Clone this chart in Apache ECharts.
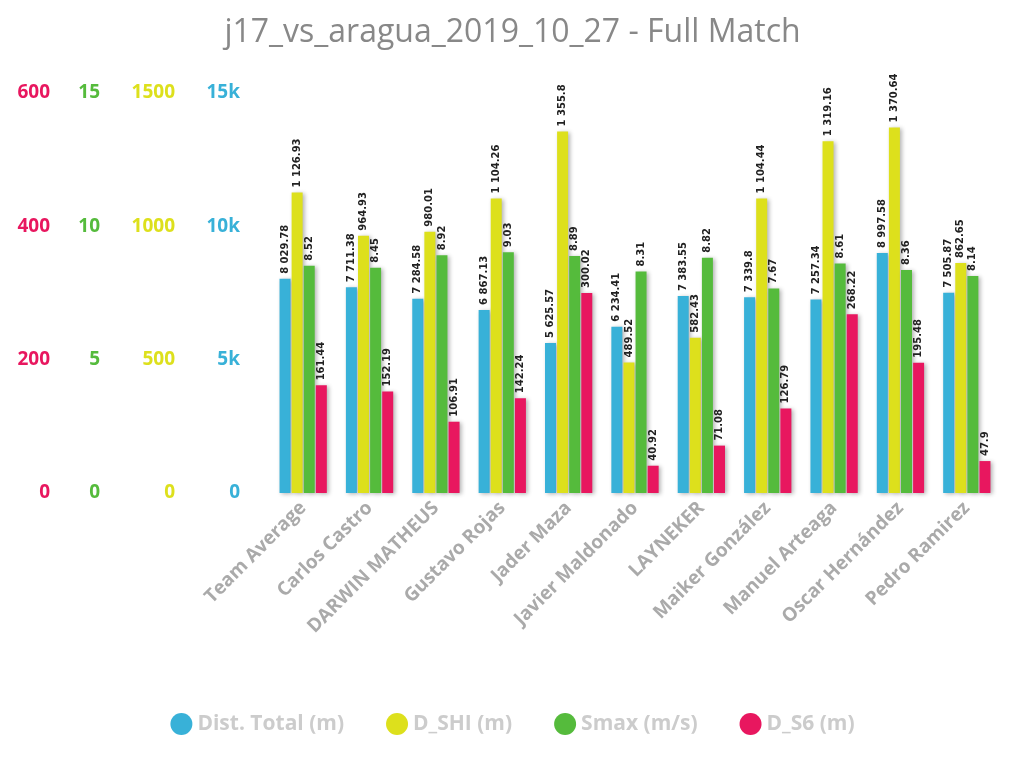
<!DOCTYPE html>
<html>
<head>
<meta charset="utf-8">
<script src="https://cdn.jsdelivr.net/npm/echarts@6/dist/echarts.min.js"></script>
<style>html,body{margin:0;padding:0;background:#fff}#chart{width:1025px;height:774px}</style>
</head>
<body>
<div id="chart"></div>
<script>
var players = ["Team Average", "Carlos Castro", "DARWIN MATHEUS", "Gustavo Rojas", "Jader Maza", "Javier Maldonado", "LAYNEKER", "Maiker González", "Manuel Arteaga", "Oscar Hernández", "Pedro Ramirez"];
var distTotal = [8029.78, 7711.38, 7284.58, 6867.13, 5625.57, 6234.41, 7383.55, 7339.8, 7257.34, 8997.58, 7505.87];
var dShi = [1126.93, 964.93, 980.01, 1104.26, 1355.8, 489.52, 582.43, 1104.44, 1319.16, 1370.64, 862.65];
var sMax = [8.52, 8.45, 8.92, 9.03, 8.89, 8.31, 8.82, 7.67, 8.61, 8.36, 8.14];
var dS6 = [161.44, 152.19, 106.91, 142.24, 300.02, 40.92, 71.08, 126.79, 268.22, 195.48, 47.9];

var colors = ["#38b1d8", "#dde01c", "#55bb3c", "#e8175f"];

function fmt(v) {
  var parts = String(v).split(".");
  parts[0] = parts[0].replace(/\B(?=(\d{3})+(?!\d))/g, " ");
  return parts.join(".");
}

function yAxis(max, interval, color, offset, formatter) {
  return {
    type: "value", position: "left", min: 0, max: max, interval: interval, offset: offset,
    axisLine: { show: false }, axisTick: { show: false }, splitLine: { show: false },
    axisLabel: { color: color, fontSize: 19, fontWeight: "bold", fontFamily: "Open Sans", margin: 8,
      formatter: formatter || function (v) { return String(v); } }
  };
}

function series(name, data, axis, color) {
  return {
    name: name, type: "bar", yAxisIndex: axis, data: data, barWidth: 11, barGap: "10%",
    itemStyle: { color: color, shadowColor: "rgba(0,0,0,0.3)", shadowBlur: 4, shadowOffsetX: 2, shadowOffsetY: 1 },
    label: {
      show: true, position: "top", rotate: 90, align: "left", verticalAlign: "middle", distance: 5,
      color: "#222", fontSize: 10, fontWeight: "bold", fontFamily: "DejaVu Sans",
      formatter: function (p) { return fmt(p.value); }
    }
  };
}

var chart = echarts.init(document.getElementById("chart"));
chart.setOption({
  title: { text: "j17_vs_aragua_2019_10_27 - Full Match", left: "center", top: 12, padding: [5, 40, 5, 0],
    textStyle: { color: "#888", fontSize: 32, fontWeight: "normal", fontFamily: "Open Sans" } },
  legend: { bottom: 34, left: "center", icon: "circle", itemWidth: 22, itemHeight: 22, itemGap: 42,
    padding: [5, 80, 5, 0],
    textStyle: { color: "#ccc", fontSize: 21, fontWeight: "bold", fontFamily: "Open Sans" } },
  grid: { left: 270, right: 25, top: 93, bottom: 281 },
  xAxis: {
    type: "category", data: players,
    axisLine: { show: false }, axisTick: { show: false },
    axisLabel: { rotate: 45, interval: 0, color: "#aaa", fontSize: 19, fontWeight: "bold", fontFamily: "Open Sans", margin: 12 }
  },
  yAxis: [
    yAxis(15000, 5000, colors[0], 22, function (v) { return v === 0 ? "0" : (v / 1000) + "k"; }),
    yAxis(1500, 500, colors[1], 87),
    yAxis(15, 5, colors[2], 162),
    yAxis(600, 200, colors[3], 212)
  ],
  series: [
    series("Dist. Total (m)", distTotal, 0, colors[0]),
    series("D_SHI (m)", dShi, 1, colors[1]),
    series("Smax (m/s)", sMax, 2, colors[2]),
    series("D_S6 (m)", dS6, 3, colors[3])
  ]
});
</script>
</body>
</html>
